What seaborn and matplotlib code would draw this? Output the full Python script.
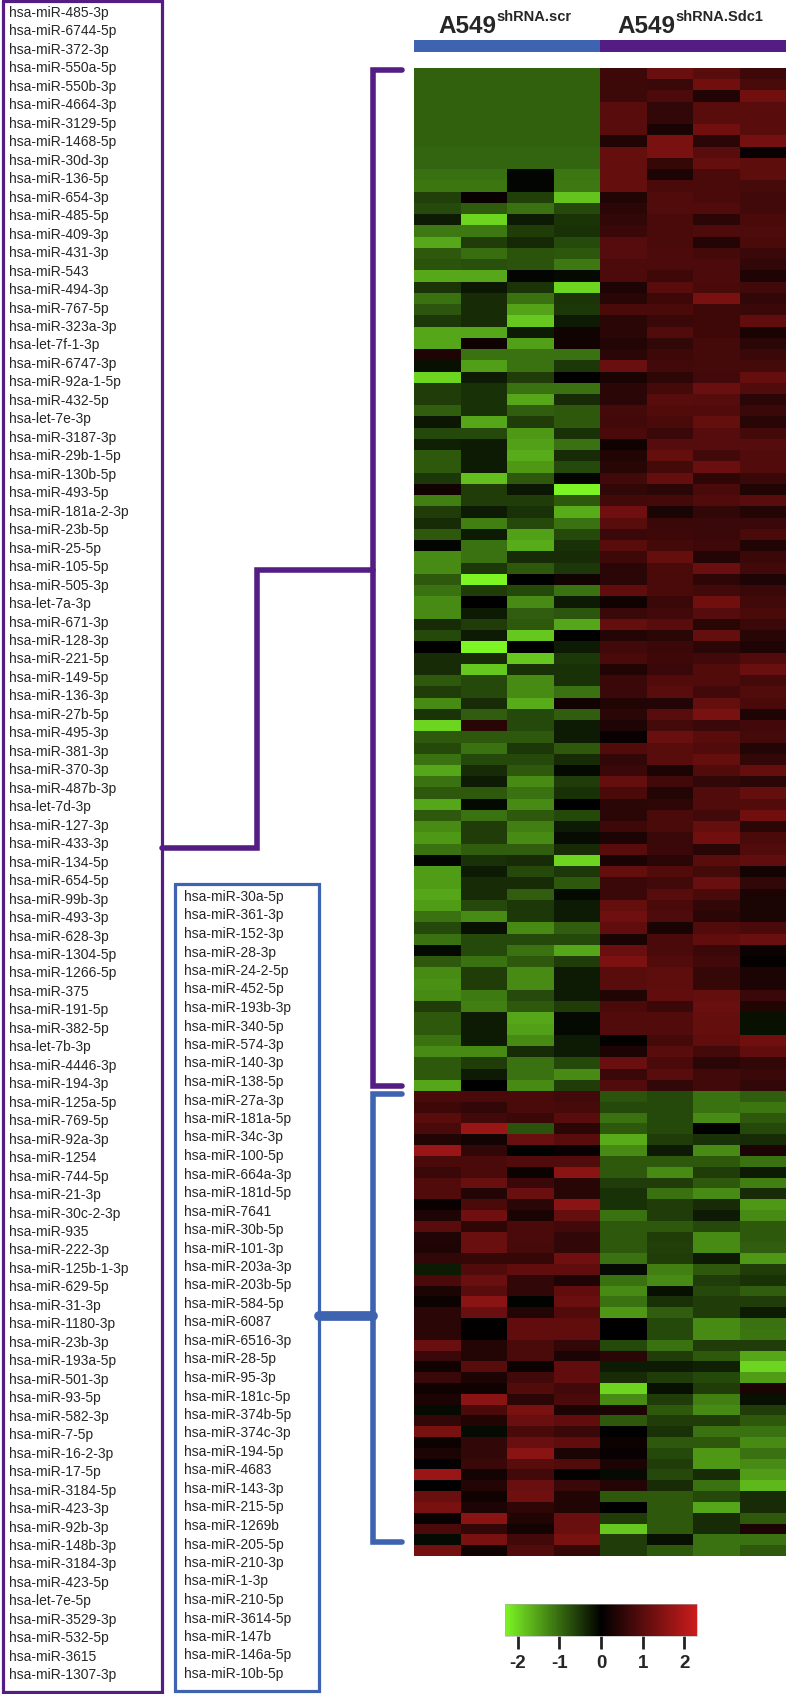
import numpy as np
import pandas as pd
import matplotlib
matplotlib.use("Agg")
import matplotlib.pyplot as plt
import seaborn as sns
from matplotlib.colors import LinearSegmentedColormap, ListedColormap

# miRNA names, listed in two columns on the left
mirna_col1 = [
    "hsa-miR-485-3p", "hsa-miR-6744-5p", "hsa-miR-372-3p", "hsa-miR-550a-5p", "hsa-miR-550b-3p",
    "hsa-miR-4664-3p", "hsa-miR-3129-5p", "hsa-miR-1468-5p", "hsa-miR-30d-3p", "hsa-miR-136-5p",
    "hsa-miR-654-3p", "hsa-miR-485-5p", "hsa-miR-409-3p", "hsa-miR-431-3p", "hsa-miR-543",
    "hsa-miR-494-3p", "hsa-miR-767-5p", "hsa-miR-323a-3p", "hsa-let-7f-1-3p", "hsa-miR-6747-3p",
    "hsa-miR-92a-1-5p", "hsa-miR-432-5p", "hsa-let-7e-3p", "hsa-miR-3187-3p", "hsa-miR-29b-1-5p",
    "hsa-miR-130b-5p", "hsa-miR-493-5p", "hsa-miR-181a-2-3p", "hsa-miR-23b-5p", "hsa-miR-25-5p",
    "hsa-miR-105-5p", "hsa-miR-505-3p", "hsa-let-7a-3p", "hsa-miR-671-3p", "hsa-miR-128-3p",
    "hsa-miR-221-5p", "hsa-miR-149-5p", "hsa-miR-136-3p", "hsa-miR-27b-5p", "hsa-miR-495-3p",
    "hsa-miR-381-3p", "hsa-miR-370-3p", "hsa-miR-487b-3p", "hsa-let-7d-3p", "hsa-miR-127-3p",
    "hsa-miR-433-3p", "hsa-miR-134-5p", "hsa-miR-654-5p", "hsa-miR-99b-3p", "hsa-miR-493-3p",
    "hsa-miR-628-3p", "hsa-miR-1304-5p", "hsa-miR-1266-5p", "hsa-miR-375", "hsa-miR-191-5p",
    "hsa-miR-382-5p", "hsa-let-7b-3p", "hsa-miR-4446-3p", "hsa-miR-194-3p", "hsa-miR-125a-5p",
    "hsa-miR-769-5p", "hsa-miR-92a-3p", "hsa-miR-1254", "hsa-miR-744-5p", "hsa-miR-21-3p",
    "hsa-miR-30c-2-3p", "hsa-miR-935", "hsa-miR-222-3p", "hsa-miR-125b-1-3p", "hsa-miR-629-5p",
    "hsa-miR-31-3p", "hsa-miR-1180-3p", "hsa-miR-23b-3p", "hsa-miR-193a-5p", "hsa-miR-501-3p",
    "hsa-miR-93-5p", "hsa-miR-582-3p", "hsa-miR-7-5p", "hsa-miR-16-2-3p", "hsa-miR-17-5p",
    "hsa-miR-3184-5p", "hsa-miR-423-3p", "hsa-miR-92b-3p", "hsa-miR-148b-3p", "hsa-miR-3184-3p",
    "hsa-miR-423-5p", "hsa-let-7e-5p", "hsa-miR-3529-3p", "hsa-miR-532-5p", "hsa-miR-3615",
    "hsa-miR-1307-3p",
]
mirna_col2 = [
    "hsa-miR-30a-5p", "hsa-miR-361-3p", "hsa-miR-152-3p", "hsa-miR-28-3p", "hsa-miR-24-2-5p",
    "hsa-miR-452-5p", "hsa-miR-193b-3p", "hsa-miR-340-5p", "hsa-miR-574-3p", "hsa-miR-140-3p",
    "hsa-miR-138-5p", "hsa-miR-27a-3p", "hsa-miR-181a-5p", "hsa-miR-34c-3p", "hsa-miR-100-5p",
    "hsa-miR-664a-3p", "hsa-miR-181d-5p", "hsa-miR-7641", "hsa-miR-30b-5p", "hsa-miR-101-3p",
    "hsa-miR-203a-3p", "hsa-miR-203b-5p", "hsa-miR-584-5p", "hsa-miR-6087", "hsa-miR-6516-3p",
    "hsa-miR-28-5p", "hsa-miR-95-3p", "hsa-miR-181c-5p", "hsa-miR-374b-5p", "hsa-miR-374c-3p",
    "hsa-miR-194-5p", "hsa-miR-4683", "hsa-miR-143-3p", "hsa-miR-215-5p", "hsa-miR-1269b",
    "hsa-miR-205-5p", "hsa-miR-210-3p", "hsa-miR-1-3p", "hsa-miR-210-5p", "hsa-miR-3614-5p",
    "hsa-miR-147b", "hsa-miR-146a-5p", "hsa-miR-10b-5p",
]

samples_scr = ["scr_1", "scr_2", "scr_3", "scr_4"]
samples_sdc1 = ["sdc1_1", "sdc1_2", "sdc1_3", "sdc1_4"]

# z-scores, cluster up in shRNA.Sdc1 (purple)
up_scr = [
    [-0.9, -0.9, -0.9, -0.9], [-0.9, -0.9, -0.9, -0.9], [-0.9, -0.9, -0.9, -0.9],
    [-0.9, -0.9, -0.9, -0.9], [-0.9, -0.9, -0.9, -0.9], [-0.9, -0.9, -0.9, -0.9],
    [-0.9, -0.9, -0.9, -0.9], [-0.95, -0.95, -0.95, -0.95], [-0.95, -0.95, -0.95, -0.95],
    [-1.05, -1.05, -0.05, -1.1], [-1.1, -1.1, -0.05, -1.12], [-0.6, 0.1, -0.6, -1.85],
    [-0.7, -0.86, -1.07, -0.68], [-0.25, -2.0, -0.25, -0.48], [-1.12, -1.13, -0.57, -0.46],
    [-1.57, -0.57, -0.38, -0.7], [-0.84, -1.04, -0.78, -0.82], [-0.78, -0.75, -0.78, -1.12],
    [-1.57, -1.57, -0.05, -0.08], [-0.48, -0.2, -0.48, -2.0], [-1.07, -0.4, -1.07, -0.5],
    [-0.8, -0.4, -1.52, -0.52], [-0.52, -0.4, -1.88, -0.25], [-1.55, -1.55, -0.25, 0.2],
    [-1.55, 0.15, -1.5, 0.2], [0.34, -1.07, -1.07, -1.07], [-0.15, -1.48, -1.07, -0.52],
    [-2.0, -0.25, -0.57, 0.0], [-0.57, -0.46, -1.07, -1.07], [-0.57, -0.46, -1.55, -0.4],
    [-0.88, -0.46, -0.88, -0.84], [-0.2, -1.55, -0.57, -0.84], [-0.68, -0.68, -1.42, -0.46],
    [-0.3, -0.25, -1.5, -1.07], [-0.84, -0.25, -1.6, -0.4], [-0.84, -0.25, -1.42, -0.68],
    [-0.52, -1.8, -0.84, -0.05], [0.2, -0.57, -0.2, -2.3], [-1.2, -0.57, -0.57, -0.84],
    [-0.57, -0.25, -0.46, -1.6], [-0.4, -1.2, -0.68, -1.07], [-0.84, -0.25, -1.5, -0.68],
    [-0.05, -1.07, -1.6, -0.46], [-1.3, -1.07, -0.4, -0.4], [-1.3, -0.52, -0.84, -0.52],
    [-0.84, -2.3, 0.0, 0.2], [-1.07, -0.57, -0.68, -1.07], [-1.3, 0.0, -1.3, -0.25],
    [-1.3, -0.25, -0.88, -0.8], [-0.4, -0.57, -0.84, -1.55], [-0.68, -0.25, -1.88, 0.0],
    [0.0, -2.35, 0.0, -0.25], [-0.4, -0.4, -1.88, -0.52], [-0.4, -1.88, -0.46, -0.46],
    [-0.84, -0.68, -1.3, -0.46], [-0.57, -0.68, -1.3, -1.07], [-1.3, -0.4, -1.6, 0.2],
    [-0.48, -0.88, -0.68, -0.88], [-2.0, 0.45, -0.68, -0.25], [-0.84, -0.84, -0.84, -0.25],
    [-0.68, -1.07, -0.52, -0.84], [-1.07, -0.68, -0.68, -0.4], [-1.55, -0.4, -0.84, -0.08],
    [-1.07, -0.25, -1.3, -0.57], [-0.84, -0.84, -1.07, -0.46], [-1.55, -0.08, -1.3, 0.0],
    [-0.84, -1.07, -0.84, -0.68], [-1.3, -0.57, -1.2, -0.25], [-1.42, -0.57, -1.3, -0.12],
    [-1.07, -0.88, -0.88, -0.4], [-0.05, -0.46, -0.4, -2.0], [-1.47, -0.25, -0.68, -0.52],
    [-1.47, -0.4, -0.4, -0.84], [-1.55, -0.4, -0.88, -0.08], [-1.47, -0.68, -0.52, -0.25],
    [-1.07, -1.3, -0.52, -0.25], [-0.68, -0.15, -1.3, -0.88], [-1.07, -0.68, -0.68, -0.68],
    [-0.08, -0.68, -1.07, -1.55], [-0.84, -1.07, -0.84, -0.57], [-1.3, -0.57, -1.3, -0.25],
    [-1.35, -0.57, -1.3, -0.25], [-1.3, -1.15, -0.7, -0.25], [-0.57, -1.2, -0.84, -0.57],
    [-0.84, -0.25, -1.55, -0.08], [-0.84, -0.25, -1.5, -0.08], [-1.07, -0.25, -1.3, -0.25],
    [-1.3, -1.3, -0.4, -0.25], [-0.84, -0.57, -1.07, -0.68], [-0.84, -0.25, -1.07, -1.3],
    [-1.55, 0.0, -1.3, -0.57],
]
up_sdc1 = [
    [0.68, 1.2, 1.0, 0.7], [0.68, 0.65, 1.26, 0.81], [0.68, 0.86, 0.36, 1.26],
    [1.0, 0.54, 1.0, 1.0], [1.0, 0.54, 1.0, 1.0], [1.0, 0.27, 1.26, 1.0],
    [0.36, 1.35, 0.47, 1.31], [1.13, 1.35, 1.0, 0.09], [1.13, 0.61, 1.13, 1.06],
    [1.13, 0.32, 0.83, 1.05], [1.13, 0.83, 0.83, 0.8], [0.36, 0.9, 0.83, 0.72],
    [0.47, 0.9, 0.9, 0.72], [0.54, 0.83, 0.47, 0.83], [0.65, 0.83, 0.88, 0.88],
    [0.97, 0.83, 0.4, 0.83], [0.97, 0.86, 0.77, 0.65], [0.86, 0.86, 0.86, 0.54],
    [0.86, 0.7, 0.86, 0.34], [0.34, 1.0, 0.83, 0.72], [0.45, 0.7, 1.38, 0.54],
    [0.83, 0.83, 0.7, 0.65], [0.47, 0.65, 0.7, 1.08], [0.47, 0.9, 0.7, 0.27],
    [0.4, 0.56, 0.77, 0.47], [0.47, 0.7, 0.77, 0.65], [1.2, 0.72, 0.77, 0.77],
    [0.27, 0.52, 0.72, 1.13], [0.47, 0.77, 1.2, 0.9], [0.47, 1.0, 0.97, 0.47],
    [0.77, 0.9, 0.9, 0.65], [0.72, 0.83, 1.13, 0.45], [0.83, 0.65, 0.97, 0.77],
    [0.18, 0.97, 0.97, 0.97], [0.36, 1.13, 0.72, 0.9], [0.45, 0.77, 1.2, 0.9],
    [0.72, 1.13, 0.52, 0.65], [0.54, 0.47, 0.83, 0.36], [0.72, 0.77, 0.9, 1.0],
    [1.25, 0.3, 0.56, 0.4], [1.0, 0.65, 0.65, 0.65], [0.65, 0.7, 0.65, 0.83],
    [1.0, 0.77, 0.7, 0.36], [0.7, 1.13, 0.4, 0.65], [0.47, 0.83, 1.2, 0.72],
    [0.47, 0.83, 0.52, 0.34], [1.08, 0.83, 0.72, 0.65], [0.18, 0.65, 1.26, 0.72],
    [0.65, 0.72, 0.97, 0.83], [1.13, 1.0, 0.45, 0.65], [0.4, 0.47, 1.13, 0.45],
    [0.72, 0.65, 0.47, 0.34], [0.83, 0.7, 0.72, 0.9], [0.36, 0.65, 0.9, 1.2],
    [0.65, 0.9, 0.9, 0.77], [0.65, 1.0, 0.72, 0.9], [0.36, 0.4, 1.13, 0.83],
    [0.47, 1.0, 1.38, 0.34], [0.34, 0.77, 0.65, 0.72], [0.1, 1.2, 1.0, 0.77],
    [0.9, 1.0, 0.9, 0.4], [0.54, 1.0, 1.13, 0.54], [0.65, 0.32, 0.9, 1.13],
    [1.13, 0.72, 0.54, 0.47], [0.83, 0.4, 0.9, 1.13], [0.47, 0.52, 0.9, 0.9],
    [0.47, 0.83, 0.72, 1.26], [0.7, 0.83, 1.13, 0.47], [0.32, 0.65, 1.26, 0.83],
    [1.0, 0.65, 0.45, 0.9], [0.27, 0.47, 1.0, 1.08], [1.13, 0.9, 0.77, 0.22],
    [0.65, 0.72, 1.2, 0.54], [0.65, 1.0, 0.83, 0.32], [1.13, 0.83, 0.54, 0.3],
    [1.24, 0.88, 0.47, 0.3], [1.08, 0.27, 0.9, 0.83], [0.27, 0.83, 1.08, 1.2],
    [1.2, 0.83, 0.65, 0.14], [1.4, 0.9, 0.72, 0.07], [1.0, 1.06, 0.6, 0.32],
    [1.0, 1.06, 0.6, 0.32], [0.36, 1.08, 1.13, 0.65], [0.83, 0.65, 1.2, 0.36],
    [0.9, 0.9, 1.13, -0.15], [0.9, 0.9, 1.13, -0.15], [0.05, 0.77, 1.08, 1.26],
    [0.32, 1.0, 0.77, 1.08], [1.2, 0.83, 0.47, 0.54], [0.65, 1.0, 0.72, 0.65],
    [0.9, 0.54, 0.72, 0.54],
]
# cluster down in shRNA.Sdc1 (blue)
down_scr = [
    [0.83, 0.83, 0.83, 0.72], [0.7, 0.54, 0.83, 0.8], [1.0, 0.72, 0.65, 1.0],
    [0.83, 1.73, -0.78, 0.47], [0.36, 0.22, 1.2, 1.0], [1.73, 0.54, -0.03, 0.09],
    [0.83, 0.83, 0.9, 0.9], [0.65, 0.83, 0.14, 1.56], [0.9, 1.2, 0.65, 0.45],
    [0.9, 0.4, 1.2, 0.45], [0.1, 0.83, 0.47, 1.56], [0.34, 1.24, 0.27, 1.13],
    [1.0, 0.52, 0.83, 0.72], [0.36, 1.2, 0.83, 0.54], [0.34, 1.2, 0.8, 0.54],
    [0.54, 0.6, 0.6, 1.24], [-0.25, 0.9, 1.08, 1.08], [0.83, 1.2, 0.54, 0.34],
    [0.32, 1.0, 0.54, 1.08], [0.14, 1.56, -0.03, 1.2], [0.47, 1.2, 0.4, 0.9],
    [0.47, 0.03, 1.08, 1.08], [0.47, 0.03, 1.08, 1.08], [1.2, 0.4, 0.83, 0.54],
    [0.65, 0.4, 0.83, 0.32], [0.18, 1.0, 0.14, 1.08], [0.65, 0.32, 0.72, 1.08],
    [0.18, 0.18, 0.9, 0.72], [0.32, 1.56, 0.47, 0.83], [-0.1, 0.83, 1.38, 0.32],
    [0.54, 0.36, 1.2, 1.08], [1.38, -0.1, 0.83, 0.65], [0.14, 0.54, 1.2, 1.08],
    [0.32, 0.54, 1.56, 0.32], [0.03, 0.65, 1.0, 0.9], [1.73, 0.22, 0.72, 0.05],
    [0.0, 0.4, 1.2, 0.65], [1.2, 0.18, 1.24, 0.36], [1.38, 0.32, 0.52, 0.36],
    [0.1, 1.56, 0.36, 1.2], [0.83, 0.54, 0.22, 1.2], [-0.1, 1.38, 0.72, 1.38],
    [1.3, 0.2, 0.9, 0.6],
]
down_sdc1 = [
    [-0.78, -0.68, -1.07, -0.88], [-0.68, -0.68, -1.07, -1.1], [-1.07, -0.68, -1.3, -0.84],
    [-0.84, -0.68, 0.0, -0.68], [-1.6, -0.57, -0.46, -0.4], [-1.3, -0.25, -1.3, 0.32],
    [-0.84, -0.84, -0.84, -1.07], [-0.84, -1.3, -0.57, -0.25], [-0.57, -0.57, -0.84, -1.2],
    [-0.46, -1.07, -1.3, -0.4], [-0.46, -0.57, -0.4, -1.42], [-1.07, -0.57, -0.25, -1.3],
    [-0.84, -0.84, -0.68, -0.84], [-0.84, -0.57, -1.3, -0.84], [-0.84, -0.6, -1.3, -0.88],
    [-1.07, -0.57, -0.25, -1.42], [-0.1, -1.2, -0.84, -0.57], [-1.07, -1.3, -0.57, -0.46],
    [-1.3, -0.15, -0.68, -0.88], [-1.07, -0.46, -0.57, -0.57], [-1.42, -0.88, -0.57, -0.25],
    [0.0, -0.68, -1.3, -1.07], [0.0, -0.68, -1.3, -1.1], [-0.68, -1.07, -0.57, -0.57],
    [0.47, -0.57, -0.84, -1.55], [-0.25, -0.25, -0.3, -2.0], [-0.4, -0.57, -0.68, -1.47],
    [-2.0, -0.15, -0.57, 0.32], [-1.3, -0.57, -1.2, -0.15], [0.32, -0.84, -1.3, -0.57],
    [-0.84, -0.57, -0.57, -0.84], [0.0, -0.46, -1.07, -1.07], [0.14, -0.84, -0.84, -1.3],
    [0.1, -0.68, -1.42, -1.07], [0.32, -0.57, -1.42, -1.3], [-0.1, -0.68, -0.4, -1.47],
    [0.4, -0.4, -1.07, -1.72], [-0.84, -0.84, -0.68, -0.4], [0.0, -0.84, -1.55, -0.4],
    [-0.57, -0.84, -0.4, -0.84], [-1.88, -0.84, -0.4, 0.32], [-0.57, -0.15, -1.07, -1.07],
    [-0.57, -0.84, -1.07, -0.84],
]

group_names = ["A549", "A549"]
group_sup = ["shRNA.scr", "shRNA.Sdc1"]
cbar_ticks = [-2, -1, 0, 1, 2]

PURPLE = "#531d84"
BLUE = "#3e63b0"

sns.set_theme(style="white")
plt.rcParams['font.family'] = ['Liberation Sans', 'DejaVu Sans']

W, H = 788, 1694
fig = plt.figure(figsize=(W / 100, H / 100), dpi=100)


def px_rect(x0, y0, x1, y1):
    # pixel box (top-left origin) -> figure fraction rect
    return [x0 / W, 1 - y1 / H, (x1 - x0) / W, (y1 - y0) / H]


cols = samples_scr + samples_sdc1
up = pd.DataFrame(np.hstack([up_scr, up_sdc1]), columns=cols)
down = pd.DataFrame(np.hstack([down_scr, down_sdc1]), columns=cols)

cmap = LinearSegmentedColormap.from_list("gkr", ["#7df424", "#000000", "#cc1c1c"])
VMIN, VMAX = -2.3, 2.3

# heatmap, drawn as the two clusters stacked
HM_X0, HM_X1 = 414, 786
HM_Y0, HM_SPLIT, HM_Y1 = 68, 1091, 1556
ax_up = fig.add_axes(px_rect(HM_X0, HM_Y0, HM_X1, HM_SPLIT))
ax_dn = fig.add_axes(px_rect(HM_X0, HM_SPLIT, HM_X1, HM_Y1))
cax = fig.add_axes(px_rect(505, 1604, 697, 1636))
sns.heatmap(up, ax=ax_up, cmap=cmap, vmin=VMIN, vmax=VMAX, xticklabels=False, yticklabels=False,
            cbar=False)
sns.heatmap(down, ax=ax_dn, cmap=cmap, vmin=VMIN, vmax=VMAX, xticklabels=False, yticklabels=False,
            cbar_ax=cax, cbar_kws={"orientation": "horizontal", "ticks": cbar_ticks})
cax.tick_params(length=9, width=2, pad=5, labelsize=13.5, color="#222222")
cax.set_xticklabels([str(t) for t in cbar_ticks], fontweight="bold")
cbar = ax_dn.collections[0].colorbar
cbar.outline.set_linewidth(0.4)
cbar.outline.set_edgecolor("#aaaaaa")

# group colour strip
gax = fig.add_axes(px_rect(HM_X0, 40, HM_X1, 52))
strip = pd.DataFrame([[0] * len(samples_scr) + [1] * len(samples_sdc1)])
sns.heatmap(strip, ax=gax, cmap=ListedColormap([BLUE, PURPLE]), cbar=False,
            xticklabels=False, yticklabels=False)

# group titles with superscript
title_x = [438, 617]
for x, name, sup in zip(title_x, group_names, group_sup):
    t = fig.text(x / W, 1 - 33 / H, name, fontsize=17.5, fontweight="bold", ha="left", va="baseline")
    gax.annotate(sup, xy=(1.0, 0.6), xycoords=t, fontsize=10.5, fontweight="bold",
                 ha="left", va="bottom", annotation_clip=False)

# overlay in pixel coordinates for labels, boxes and brackets
ov = fig.add_axes([0, 0, 1, 1], zorder=-1)
ov.set_xlim(0, W)
ov.set_ylim(H, 0)
ov.axis("off")

for i, lab in enumerate(mirna_col1):
    ov.text(9, 13 + i * 18.47, lab, fontsize=10, va="center", ha="left")
for i, lab in enumerate(mirna_col2):
    ov.text(184, 897 + i * 18.5, lab, fontsize=10, va="center", ha="left")

lw_box = 2.3
ov.plot([3, 162, 162, 3, 3], [1.5, 1.5, 1692, 1692, 1.5], color=PURPLE, lw=lw_box, solid_joinstyle="miter")
ov.plot([175, 319, 319, 175, 175], [884, 884, 1691, 1691, 884], color=BLUE, lw=lw_box, solid_joinstyle="miter")

# cluster brackets
lw_br = 4
bx, tick_x = 373, 402
ov.plot([tick_x, bx, bx, tick_x], [HM_Y0 + 2, HM_Y0 + 2, HM_SPLIT - 5, HM_SPLIT - 5], color=PURPLE,
        lw=lw_br, solid_joinstyle="miter")
ov.plot([tick_x, bx, bx, tick_x], [HM_SPLIT + 3, HM_SPLIT + 3, HM_Y1 - 14, HM_Y1 - 14], color=BLUE,
        lw=lw_br, solid_joinstyle="miter")
# connectors to the label boxes
ov.plot([162, 257, 257, bx], [848, 848, 570, 570], color=PURPLE, lw=lw_br, solid_joinstyle="miter")
ov.plot([319, bx], [1316, 1316], color=BLUE, lw=7)

fig.savefig("out.png", dpi=100)
